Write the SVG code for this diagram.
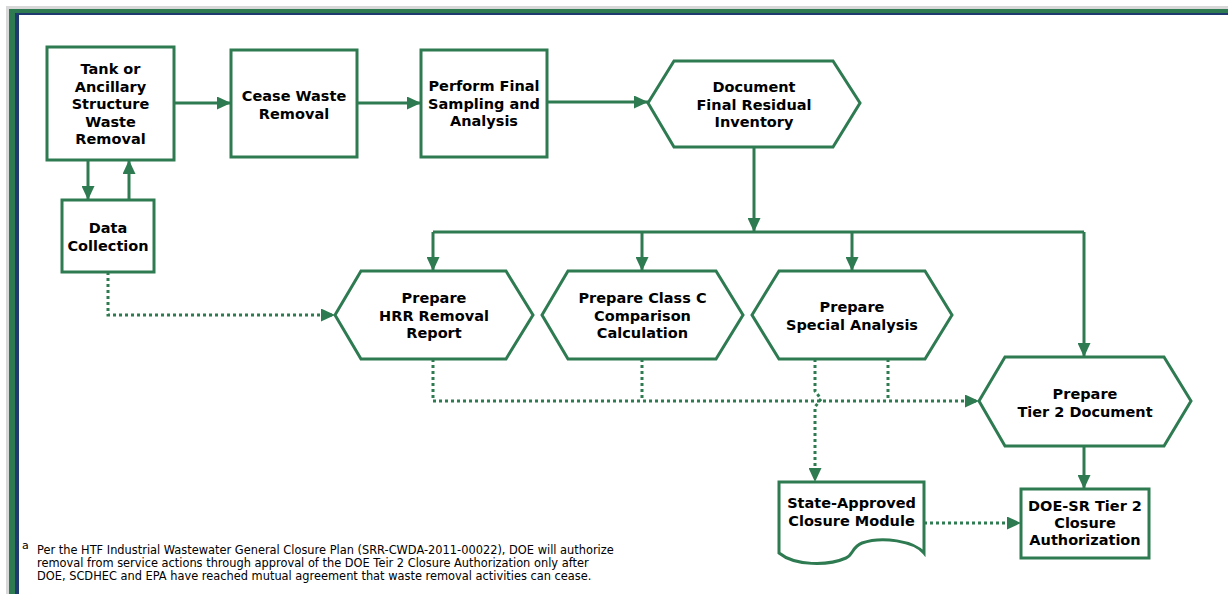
<svg xmlns="http://www.w3.org/2000/svg" width="1228" height="594" viewBox="0 0 1228 594">
<style>
.node{fill:#fff;stroke:#2e7b52;stroke-width:3;stroke-linejoin:miter}
.lbl{font-family:"DejaVu Sans",Verdana,sans-serif;font-weight:bold;font-size:14.5px;fill:#000;text-anchor:middle}
.solid{fill:none;stroke:#2e7b52;stroke-width:3}
.dot{fill:none;stroke:#2e7b52;stroke-width:3;stroke-dasharray:3 3}
.note{font-family:"DejaVu Sans",Tahoma,sans-serif;font-size:11.4px;fill:#000}
</style>
<defs>
<marker id="arr" viewBox="0 0 14 13" refX="14" refY="6.5" markerWidth="14" markerHeight="13" markerUnits="userSpaceOnUse" orient="auto">
<path d="M0,0 L14,6.5 L0,13 z" fill="#2e7b52"/>
</marker>
</defs>
<rect x="0" y="0" width="1228" height="594" fill="#fff"/>
<g id="frame">
<rect x="6" y="6" width="1222" height="588" fill="#d8d8d8"/>
<rect x="9" y="9" width="1219" height="585" fill="#2e7b52"/>
<rect x="15" y="13" width="1213" height="581" fill="#1f3a6e"/>
<rect x="19" y="15" width="1209" height="579" fill="#fff"/>
</g>
<g id="connectors">
<path class="solid" d="M174,103 H231" marker-end="url(#arr)"/>
<path class="solid" d="M357,103 H421" marker-end="url(#arr)"/>
<path class="solid" d="M547,102 H648" marker-end="url(#arr)"/>
<path class="solid" d="M88,160 V200" marker-end="url(#arr)"/>
<path class="solid" d="M129,200 V160" marker-end="url(#arr)"/>
<path class="solid" d="M754,147 V232" marker-end="url(#arr)"/>
<path class="solid" d="M433,232 H1084"/>
<path class="solid" d="M433,232 V271" marker-end="url(#arr)"/>
<path class="solid" d="M642,232 V271" marker-end="url(#arr)"/>
<path class="solid" d="M852,232 V271" marker-end="url(#arr)"/>
<path class="solid" d="M1084,232 V357" marker-end="url(#arr)"/>
<path class="solid" d="M1084,446 V489" marker-end="url(#arr)"/>
<path class="dot" d="M108,272 V315 H335" marker-end="url(#arr)"/>
<path class="dot" d="M433,359 V401 H979" marker-end="url(#arr)"/>
<path class="dot" d="M642,359 V401"/>
<path class="dot" d="M888,359 V401"/>
<path class="dot" d="M815,359 V391 L821,399 L815,407 V482" marker-end="url(#arr)"/>
<path class="dot" d="M924,523 H1021" marker-end="url(#arr)"/>
</g>
<g id="n-tank">
<rect class="node" x="47" y="47" width="127" height="113"/>
<text class="lbl" x="110.5" y="74">Tank or</text>
<text class="lbl" x="110.5" y="91.5">Ancillary</text>
<text class="lbl" x="110.5" y="109">Structure</text>
<text class="lbl" x="110.5" y="126.5">Waste</text>
<text class="lbl" x="110.5" y="144">Removal</text>
</g>
<g id="n-cease">
<rect class="node" x="231" y="50" width="126" height="107"/>
<text class="lbl" x="294" y="101">Cease Waste</text>
<text class="lbl" x="294" y="118.5">Removal</text>
</g>
<g id="n-perform">
<rect class="node" x="421" y="50" width="126" height="107"/>
<text class="lbl" x="484" y="91">Perform Final</text>
<text class="lbl" x="484" y="108.5">Sampling and</text>
<text class="lbl" x="484" y="126">Analysis</text>
</g>
<g id="n-document">
<polygon class="node" points="648,103 674,61 833,61 860,103 833,147 674,147"/>
<text class="lbl" x="754" y="92">Document</text>
<text class="lbl" x="754" y="109.5">Final Residual</text>
<text class="lbl" x="754" y="127">Inventory</text>
</g>
<g id="n-data">
<rect class="node" x="62" y="200" width="92" height="72"/>
<text class="lbl" x="108" y="233">Data</text>
<text class="lbl" x="108" y="250.5">Collection</text>
</g>
<g id="n-hrr">
<polygon class="node" points="335,315 361,271 506,271 533,315 506,359 361,359"/>
<text class="lbl" x="434" y="303">Prepare</text>
<text class="lbl" x="434" y="320.5">HRR Removal</text>
<text class="lbl" x="434" y="338">Report</text>
</g>
<g id="n-classc">
<polygon class="node" points="542,315 568,271 716,271 743,315 716,359 568,359"/>
<text class="lbl" x="642.5" y="303">Prepare Class C</text>
<text class="lbl" x="642.5" y="320.5">Comparison</text>
<text class="lbl" x="642.5" y="338">Calculation</text>
</g>
<g id="n-special">
<polygon class="node" points="752,315 779,271 925,271 952,315 925,359 779,359"/>
<text class="lbl" x="852" y="312">Prepare</text>
<text class="lbl" x="852" y="329.5">Special Analysis</text>
</g>
<g id="n-tier2">
<polygon class="node" points="979,401 1005,357 1164,357 1191,401 1164,446 1005,446"/>
<text class="lbl" x="1085" y="399">Prepare</text>
<text class="lbl" x="1085" y="416.5">Tier 2 Document</text>
</g>
<g id="n-state">
<path class="node" d="M779,482 H924 V553 C914,541 882,536 862,543 C852,547 853,555 846,558 C828,566 795,566 779,553 Z"/>
<text class="lbl" x="851.5" y="508">State-Approved</text>
<text class="lbl" x="851.5" y="525.5">Closure Module</text>
</g>
<g id="n-doe">
<rect class="node" x="1021" y="489" width="128" height="69"/>
<text class="lbl" x="1085" y="511">DOE-SR Tier 2</text>
<text class="lbl" x="1085" y="528">Closure</text>
<text class="lbl" x="1085" y="545">Authorization</text>
</g>
<g id="footnote">
<text class="note" x="22" y="549" style="font-size:11px">a</text>
<text class="note" x="37" y="554">Per the HTF Industrial Wastewater General Closure Plan (SRR-CWDA-2011-00022), DOE will authorize</text>
<text class="note" x="37" y="567">removal from service actions through approval of the DOE Teir 2 Closure Authorization only after</text>
<text class="note" x="37" y="580">DOE, SCDHEC and EPA have reached mutual agreement that waste removal activities can cease.</text>
</g>
</svg>
